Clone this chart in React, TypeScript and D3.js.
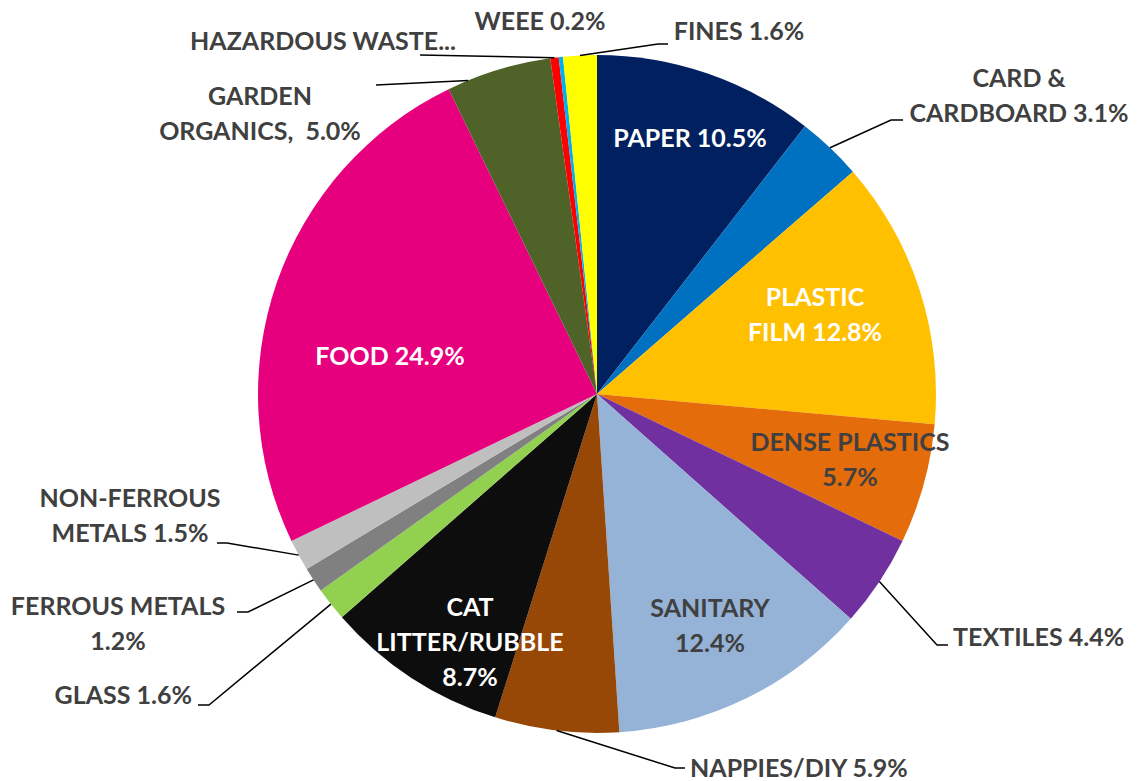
import { arc, pie, PieArcDatum } from "d3";

const categories = [
	"PAPER",
	"CARD & CARDBOARD",
	"PLASTIC FILM",
	"DENSE PLASTICS",
	"TEXTILES",
	"SANITARY",
	"NAPPIES/DIY",
	"CAT LITTER/RUBBLE",
	"GLASS",
	"FERROUS METALS",
	"NON-FERROUS METALS",
	"FOOD",
	"GARDEN ORGANICS",
	"HAZARDOUS WASTE",
	"WEEE",
	"FINES",
];
const shares = [10.5, 3.1, 12.8, 5.7, 4.4, 12.4, 5.9, 8.7, 1.6, 1.2, 1.5, 24.9, 5.0, 0.4, 0.2, 1.6];
const labelTexts = [
	["PAPER 10.5%"],
	["CARD &", "CARDBOARD 3.1%"],
	["PLASTIC", "FILM 12.8%"],
	["DENSE PLASTICS", "5.7%"],
	["TEXTILES 4.4%"],
	["SANITARY", "12.4%"],
	["NAPPIES/DIY 5.9%"],
	["CAT", "LITTER/RUBBLE", "8.7%"],
	["GLASS 1.6%"],
	["FERROUS METALS", "1.2%"],
	["NON-FERROUS", "METALS 1.5%"],
	["FOOD 24.9%"],
	["GARDEN", "ORGANICS,\u00A0 5.0%"],
	["HAZARDOUS WASTE..."],
	["WEEE 0.2%"],
	["FINES 1.6%"],
];
const colors = [
	"#002060", "#0070C0", "#FFC000", "#E46C0A", "#7030A0", "#95B3D7", "#974706", "#0D0D0D",
	"#92D050", "#808080", "#BFBFBF", "#E6007E", "#4F6228", "#FF0000", "#00B0F0", "#FFFF00",
];

const WIDTH = 1139;
const HEIGHT = 781;
const cx = 597;
const cy = 394;
const radius = 339;
const LINE_H = 35;
const DARK = "#404040";

// label layout: text centre (x, y of first line), anchor, colour, optional leader elbow
interface LabelLayout {
	x: number;
	y: number;
	anchor: "start" | "middle" | "end";
	fill: string;
	elbow?: [number, number];
	end?: [number, number];
	shift?: number;
}
const layout: LabelLayout[] = [
	{ x: 690, y: 137, anchor: "middle", fill: "#fff" },
	{ x: 1019, y: 77, anchor: "middle", fill: DARK, elbow: [891, 120], end: [903, 120] },
	{ x: 815, y: 296, anchor: "middle", fill: "#fff" },
	{ x: 850, y: 441, anchor: "middle", fill: DARK },
	{ x: 953, y: 636, anchor: "start", fill: DARK, elbow: [937, 645], end: [948, 645] },
	{ x: 710, y: 607, anchor: "middle", fill: DARK },
	{ x: 690, y: 767, anchor: "start", fill: DARK, elbow: [675, 768], end: [685, 768] },
	{ x: 470, y: 606, anchor: "middle", fill: "#fff" },
	{ x: 192, y: 694, anchor: "end", fill: DARK, elbow: [209, 705], end: [198, 705] },
	{ x: 118, y: 605, anchor: "middle", fill: DARK, elbow: [248, 612], end: [237, 612] },
	{ x: 130, y: 497, anchor: "middle", fill: DARK, elbow: [227, 543], end: [217, 543] },
	{ x: 390, y: 355, anchor: "middle", fill: "#fff" },
	{ x: 260, y: 95, anchor: "middle", fill: DARK, elbow: [376, 85], end: [376, 85], shift: -0.015 },
	{ x: 323, y: 40, anchor: "middle", fill: DARK, elbow: [420, 55], end: [420, 55] },
	{ x: 540, y: 20, anchor: "middle", fill: DARK },
	{ x: 739, y: 30, anchor: "middle", fill: DARK, elbow: [658, 44], end: [668, 44] },
];

type Slice = { name: string; value: number; i: number };

export default function App() {
	const data: Slice[] = categories.map((name, i) => ({ name, value: shares[i], i }));
	const arcs = pie<Slice>()
		.sort(null)
		.value((d) => d.value)
		.startAngle(0)
		.endAngle(Math.PI * 2)(data);
	const arcGen = arc<PieArcDatum<Slice>>().innerRadius(0).outerRadius(radius);

	function edgePoint(a: PieArcDatum<Slice>, shift = 0): [number, number] {
		const ang = (a.startAngle + a.endAngle) / 2 + shift * Math.PI * 2;
		return [cx + radius * Math.sin(ang), cy - radius * Math.cos(ang)];
	}

	return (
		<svg
			width={WIDTH}
			height={HEIGHT}
			style={{ position: "absolute", left: 0, top: 0, background: "#fff" }}
			fontFamily="Lato, 'Liberation Sans', sans-serif"
			fontWeight="bold"
			fontSize={25}
		>
			<g transform={`translate(${cx},${cy})`}>
				{arcs.map((a) => (
					<path key={a.data.name} d={arcGen(a) ?? ""} fill={colors[a.data.i]} />
				))}
			</g>
			{arcs.map((a) => {
				const l = layout[a.data.i];
				if (!l.elbow || !l.end) return null;
				const [sx, sy] = edgePoint(a, l.shift ?? 0);
				return (
					<polyline
						key={`lead-${a.data.name}`}
						points={`${sx},${sy} ${l.elbow[0]},${l.elbow[1]} ${l.end[0]},${l.end[1]}`}
						fill="none"
						stroke="#000"
						strokeWidth={1.5}
					/>
				);
			})}
			{arcs.map((a) => {
				const l = layout[a.data.i];
				return (
					<text
						key={`lab-${a.data.name}`}
						x={l.x}
						y={l.y}
						textAnchor={l.anchor}
						fill={l.fill}
						dominantBaseline="central"
					>
						{labelTexts[a.data.i].map((t, k) => (
							<tspan key={k} x={l.x} y={l.y + k * LINE_H}>
								{t}
							</tspan>
						))}
					</text>
				);
			})}
		</svg>
	);
}
